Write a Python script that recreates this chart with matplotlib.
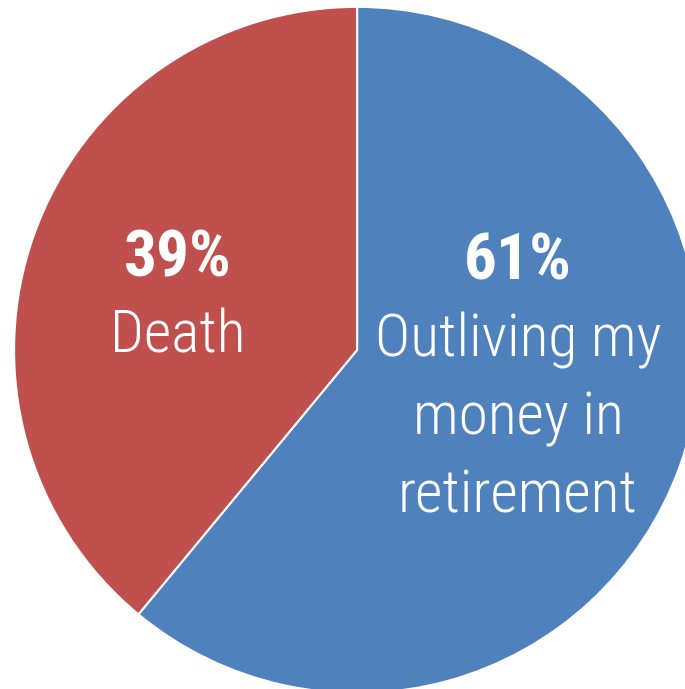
import matplotlib
matplotlib.use('Agg')
import matplotlib.pyplot as plt

# share of respondents by biggest fear
labels = ['Outliving my\nmoney in\nretirement', 'Death']
shares = [61, 39]
colors = ['#4F81BD', '#C0504D']

family = ['Roboto Condensed', 'DejaVu Sans']

fig = plt.figure(figsize=(6.85, 6.89), dpi=100)
ax = fig.add_axes([0, 0, 1, 1])
wedges, _ = ax.pie(shares, colors=colors, startangle=90, counterclock=False,
                   radius=1, wedgeprops=dict(edgecolor='white', linewidth=1.5))

# value and name inside each slice
spots = [(0.469, 0.255), (-0.522, 0.266)]
for lab, val, (x, y) in zip(labels, shares, spots):
    ax.text(x, y, f'{val}%', ha='center', va='center', color='white',
            fontsize=47, fontweight='bold', family=family)
    ax.text(x, y - 0.145, lab, ha='center', va='top', color='white',
            fontsize=43, fontweight='light', linespacing=1.47, family=family)

ax.set_xlim(-1.041, 0.956)
ax.set_ylim(-0.988, 1.020)
ax.set_aspect('auto')
ax.axis('off')

fig.savefig('out.png', dpi=100)
